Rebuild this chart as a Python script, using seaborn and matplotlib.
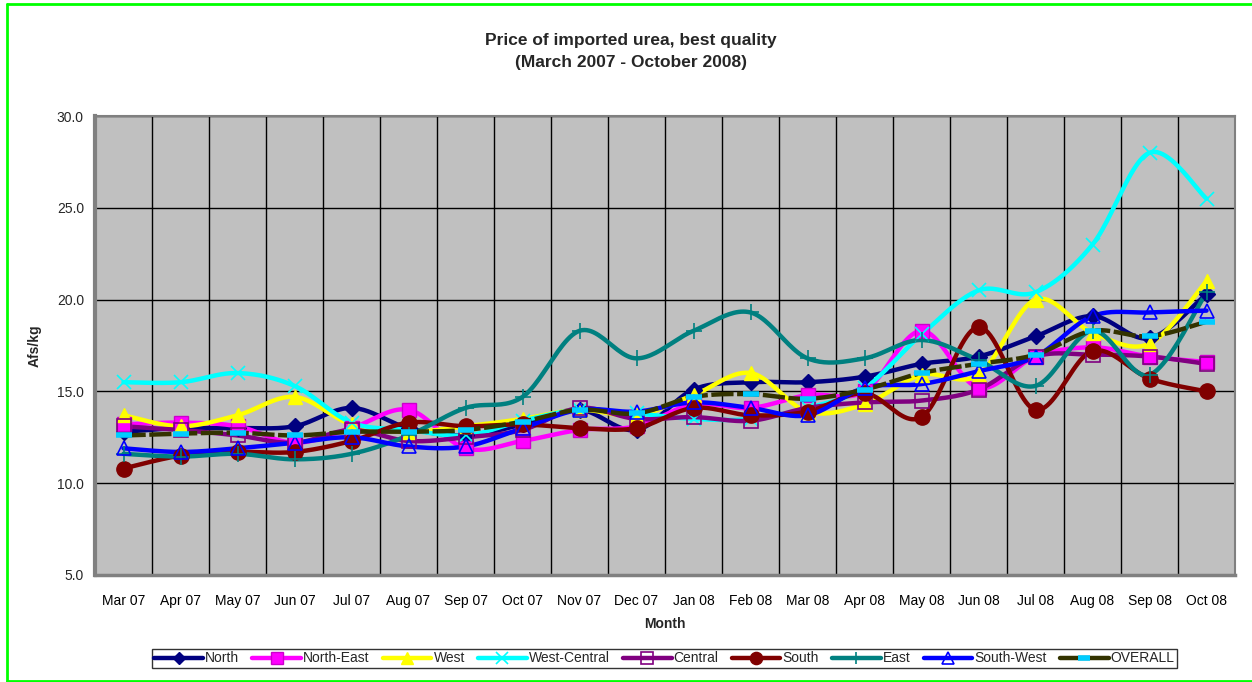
import numpy as np
import pandas as pd
import matplotlib
matplotlib.use("Agg")
import matplotlib.pyplot as plt
from matplotlib.lines import Line2D
import seaborn as sns

months = ["Mar 07", "Apr 07", "May 07", "Jun 07", "Jul 07", "Aug 07", "Sep 07", "Oct 07",
          "Nov 07", "Dec 07", "Jan 08", "Feb 08", "Mar 08", "Apr 08", "May 08", "Jun 08",
          "Jul 08", "Aug 08", "Sep 08", "Oct 08"]

north = [12.8, 13.0, 13.0, 13.1, 14.1, 13.0, 12.6, 13.2, 14.0, 12.9,
         15.1, 15.5, 15.5, 15.8, 16.5, 16.9, 18.0, 19.1, 17.9, 20.3]
north_east = [13.2, 13.3, 13.1, 12.2, 13.0, 14.0, 11.9, 12.3, 12.9, 13.1,
              14.3, 14.1, 14.8, 15.0, 18.3, 15.2, 16.9, 17.4, 16.9, 16.6]
west = [13.7, 13.1, 13.7, 14.7, 13.2, 12.8, 13.1, 13.5, 14.0, 13.7,
        14.8, 16.0, 13.9, 14.3, 15.9, 15.9, 20.0, 18.2, 17.6, 21.0]
west_central = [15.5, 15.5, 16.0, 15.3, 13.3, 12.9, 12.6, 13.4, 14.0, 13.8,
                13.5, 13.5, 14.1, 15.2, 18.1, 20.5, 20.4, 23.0, 28.0, 25.5]
central = [13.1, 12.9, 12.6, 12.2, 12.9, 12.3, 12.5, 12.9, 14.1, 13.5,
           13.6, 13.4, 14.1, 14.4, 14.5, 15.1, 16.9, 17.0, 16.9, 16.5]
south = [10.8, 11.5, 11.7, 11.7, 12.3, 13.3, 13.1, 13.2, 13.0, 13.0,
         14.1, 13.7, 13.9, 14.9, 13.6, 18.5, 14.0, 17.2, 15.7, 15.0]
east = [11.6, 11.45, 11.6, 11.3, 11.6, 12.6, 14.1, 14.7, 18.3, 16.8,
        18.3, 19.3, 16.8, 16.8, 17.8, 16.7, 15.3, 18.3, 15.9, 20.4]
south_west = [11.9, 11.7, 11.9, 12.2, 12.5, 12.0, 12.0, 13.0, 14.0, 13.9,
              14.4, 14.1, 13.7, 15.2, 15.4, 16.1, 16.9, 19.1, 19.3, 19.4]
overall = [12.6, 12.7, 12.75, 12.6, 12.8, 12.8, 12.9, 13.35, 14.0, 13.8,
           14.7, 14.85, 14.6, 15.1, 16.0, 16.5, 17.0, 18.3, 18.0, 18.8]

series_names = ["North", "North-East", "West", "West-Central", "Central", "South",
                "East", "South-West", "OVERALL"]
series_values = [north, north_east, west, west_central, central, south, east,
                 south_west, overall]

styles = {
    "North": dict(color="#000080", marker="D", ms=8, mfc="#000080", mec="#000080", mew=1),
    "North-East": dict(color="#FF00FF", marker="s", ms=10, mfc="#FF00FF", mec="#CC00CC", mew=1),
    "West": dict(color="#FFFF00", marker="^", ms=10, mfc="#FFFF00", mec="#FFFF00", mew=1),
    "West-Central": dict(color="#00FFFF", marker="x", ms=10, mfc="#00FFFF", mec="#00FFFF", mew=1.2),
    "Central": dict(color="#800080", marker="s", ms=10, mfc="none", mec="#800080", mew=1.2),
    "South": dict(color="#800000", marker="o", ms=11, mfc="#800000", mec="#800000", mew=1),
    "East": dict(color="#008080", marker="+", ms=11, mfc="#008080", mec="#008080", mew=1.2),
    "South-West": dict(color="#0000FF", marker="^", ms=10, mfc="none", mec="#0000FF", mew=1.2),
    "OVERALL": dict(color="#333300", marker="_", ms=11, mfc="#00CCFF", mec="#00CCFF", mew=4),
}


def smooth_curve(y, n=24):
    y = np.asarray(y, dtype=float)
    x = np.arange(len(y), dtype=float)
    xs, ys = [], []
    m = len(y)
    for i in range(m - 1):
        i0 = max(i - 1, 0)
        i3 = min(i + 2, m - 1)
        p0 = np.array([x[i], y[i]])
        p1 = np.array([x[i + 1], y[i + 1]])
        pm = np.array([x[i0], y[i0]])
        pp = np.array([x[i3], y[i3]])
        c1 = p0 + (p1 - pm) / 6.0
        c2 = p1 - (pp - p0) / 6.0
        t = np.linspace(0, 1, n, endpoint=(i == m - 2))[:, None]
        b = ((1 - t) ** 3) * p0 + 3 * ((1 - t) ** 2) * t * c1 + 3 * (1 - t) * t ** 2 * c2 + t ** 3 * p1
        xs.append(b[:, 0])
        ys.append(b[:, 1])
    return np.concatenate(xs), np.concatenate(ys)


sns.set_style("white")
plt.rcParams["font.family"] = ["Liberation Sans", "DejaVu Sans"]

fig = plt.figure(figsize=(12.52, 6.82), dpi=100)
ax = fig.add_axes([95 / 1252, 1 - 575 / 682, 1140 / 1252, 459 / 682])
ax.set_facecolor("#C0C0C0")

xidx = np.arange(len(months))
for name, vals in zip(series_names, series_values):
    st = styles[name]
    sx, sy = smooth_curve(vals)
    df = pd.DataFrame({"x": sx, "y": sy})
    sns.lineplot(data=df, x="x", y="y", ax=ax, sort=False, estimator=None,
                 color=st["color"], linewidth=3.2, zorder=3)
    if name == "OVERALL":
        ax.lines[-1].set_dashes((5, 0.8))
    ax.plot(xidx, vals, linestyle="none", marker=st["marker"], ms=st["ms"],
            mfc=st["mfc"], mec=st["mec"], mew=st["mew"], zorder=4)

ax.set_xlim(-0.5, len(months) - 0.5)
ax.set_ylim(5, 30)
ax.set_yticks(np.arange(5, 30.1, 5))
ax.set_yticklabels([f"{v:.1f}" for v in np.arange(5, 30.1, 5)])
ax.set_xticks(xidx)
ax.set_xticklabels(months)
ax.set_xticks(np.arange(-0.5, len(months)), minor=True)
ax.tick_params(axis="x", which="major", length=0, labelsize=10, pad=14, colors="black")
ax.tick_params(axis="x", which="minor", length=5, width=1, color="black", direction="out")
ax.tick_params(axis="y", which="major", length=5, width=1, color="black", direction="out",
               labelsize=10, pad=3)
ax.grid(False)
ax.grid(True, which="minor", axis="x", color="black", linewidth=1)
ax.grid(True, which="major", axis="y", color="black", linewidth=1)
ax.set_axisbelow(True)
for sp in ax.spines.values():
    sp.set_color("#808080")
    sp.set_linewidth(1.5)
ax.spines["left"].set_linewidth(3)
ax.spines["bottom"].set_linewidth(2.5)

ax.set_xlabel("Month", fontsize=10, fontweight="bold", labelpad=6)
ax.set_ylabel("Afs/kg", fontsize=10, fontweight="bold", labelpad=0)
ax.yaxis.set_label_coords((42 - 95) / 1140, 0.5)

fig.text(631 / 1252, 1 - 41 / 682, "Price of imported urea, best quality",
         ha="center", va="center", fontsize=12.5, fontweight="bold")
fig.text(631 / 1252, 1 - 62 / 682, "(March 2007 - October 2008)",
         ha="center", va="center", fontsize=12.5, fontweight="bold")

handles = []
for name in series_names:
    st = styles[name]
    h = Line2D([], [], color=st["color"], linewidth=3.2, marker=st["marker"],
               ms=st["ms"] * 0.8, mfc=st["mfc"], mec=st["mec"], mew=st["mew"])
    handles.append(h)
leg = fig.legend(handles, series_names, loc="center", ncol=9,
                 bbox_to_anchor=(664.5 / 1252, 1 - 658.5 / 682),
                 frameon=True, fancybox=False, fontsize=10, handlelength=3.5,
                 handletextpad=0.15, columnspacing=0.95, borderpad=0.15,
                 borderaxespad=0, numpoints=1)
leg.get_frame().set_edgecolor("black")
leg.get_frame().set_linewidth(1)

# green border: left, top and bottom only
bx0, by0, by1 = 7 / 1252, 1 - 680.5 / 682, 1 - 4 / 682
for xs_, ys_ in [([bx0, bx0], [by0, by1]), ([bx0, 1.0], [by1, by1]), ([bx0, 1.0], [by0, by0])]:
    fig.add_artist(Line2D(xs_, ys_, transform=fig.transFigure, color="#00FF00",
                          linewidth=2, zorder=10))

fig.savefig("out.png", dpi=100, facecolor="white")
